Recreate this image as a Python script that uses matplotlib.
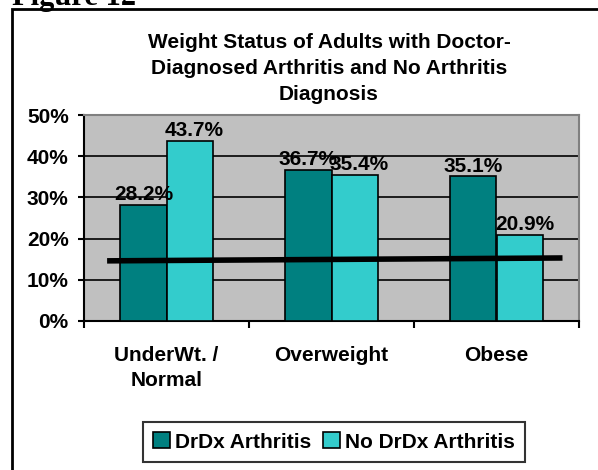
import matplotlib.pyplot as plt
from matplotlib.patches import Rectangle

categories = ["UnderWt. /\nNormal", "Overweight", "Obese"]
drdx = [28.2, 36.7, 35.1]
no_drdx = [43.7, 35.4, 20.9]
series_names = ["DrDx Arthritis", "No DrDx Arthritis"]
yticks = [0, 10, 20, 30, 40, 50]
# thick reference line drawn across the chart (category units, percent)
line_x = [-0.36, 2.40]
line_y = [14.6, 15.3]

plt.rcParams["font.family"] = ["Liberation Sans", "DejaVu Sans"]
plt.rcParams["font.weight"] = "bold"
FS = 15

fig = plt.figure(figsize=(5.98, 4.70), dpi=100)

# outer chart border (runs off the right / bottom of the picture)
fig.patches.append(Rectangle((12 / 598, -0.1), 1.0, 1 - 9 / 470 + 0.1,
                             transform=fig.transFigure, fill=False,
                             edgecolor="black", linewidth=2))
fig.text(12 / 598, 1 - 5 / 470, "Figure 12", fontsize=22, fontweight="bold",
         family="Liberation Serif", va="baseline", ha="left")

ax = fig.add_axes([84 / 598, 1 - 321 / 470, 495 / 598, 206 / 470])
ax.set_facecolor("#C0C0C0")

x = list(range(len(categories)))
w = 0.28
ax.set_axisbelow(True)
ax.yaxis.grid(True, color="black", linewidth=1.2)
ax.bar([i - w / 2 for i in x], drdx, w, color="#008080", edgecolor="black",
       linewidth=1.2, label=series_names[0], zorder=3)
ax.bar([i + w / 2 for i in x], no_drdx, w, color="#33CCCC", edgecolor="black",
       linewidth=1.2, label=series_names[1], zorder=3)

for i in x:
    ax.text(i - w / 2, drdx[i] + 0.2, f"{drdx[i]:.1f}%", ha="center",
            va="bottom", fontsize=FS, fontweight="bold", zorder=5)
    ax.text(i + w / 2 + 0.03, no_drdx[i] + 0.2, f"{no_drdx[i]:.1f}%",
            ha="center", va="bottom", fontsize=FS, fontweight="bold", zorder=5)

ax.plot(line_x, line_y, color="black", linewidth=4, solid_capstyle="butt",
        clip_on=False, zorder=6)

ax.set_xlim(-0.5, 2.5)
ax.set_ylim(0, 50)
ax.set_yticks(yticks)
ax.set_yticklabels([f"{v}%" for v in yticks], fontsize=FS, fontweight="bold")
ax.tick_params(axis="y", length=4, width=1.5, direction="out", pad=7)

ax.set_xticks([-0.5, 0.5, 1.5, 2.5])
ax.set_xticklabels([])
ax.tick_params(axis="x", which="major", length=5, width=1.5, direction="out")
ax.set_xticks(x, minor=True)
ax.set_xticklabels(categories, minor=True, fontsize=FS, fontweight="bold",
                   linespacing=1.4)
ax.tick_params(axis="x", which="minor", length=0, pad=18)

for s in ["top", "right"]:
    ax.spines[s].set_color("#808080")
    ax.spines[s].set_linewidth(1.5)
for s in ["left", "bottom"]:
    ax.spines[s].set_color("black")
    ax.spines[s].set_linewidth(1.5)

fig.text(329 / 598, 1 - 33 / 470, "Weight Status of Adults with Doctor-\n"
         "Diagnosed Arthritis and No Arthritis\nDiagnosis",
         ha="center", va="top", fontsize=FS, fontweight="bold",
         linespacing=1.45)

leg = fig.legend(loc="center", bbox_to_anchor=(334 / 598, 1 - 442 / 470),
                 ncol=2, fontsize=FS, frameon=True, fancybox=False,
                 handlelength=0.8, handleheight=0.8, handletextpad=0.25,
                 columnspacing=0.55, borderpad=0.5, borderaxespad=0)
leg.get_frame().set_edgecolor("black")
leg.get_frame().set_linewidth(1.5)
for t in leg.get_texts():
    t.set_fontweight("bold")

fig.savefig("out.png", dpi=100, facecolor="white")
